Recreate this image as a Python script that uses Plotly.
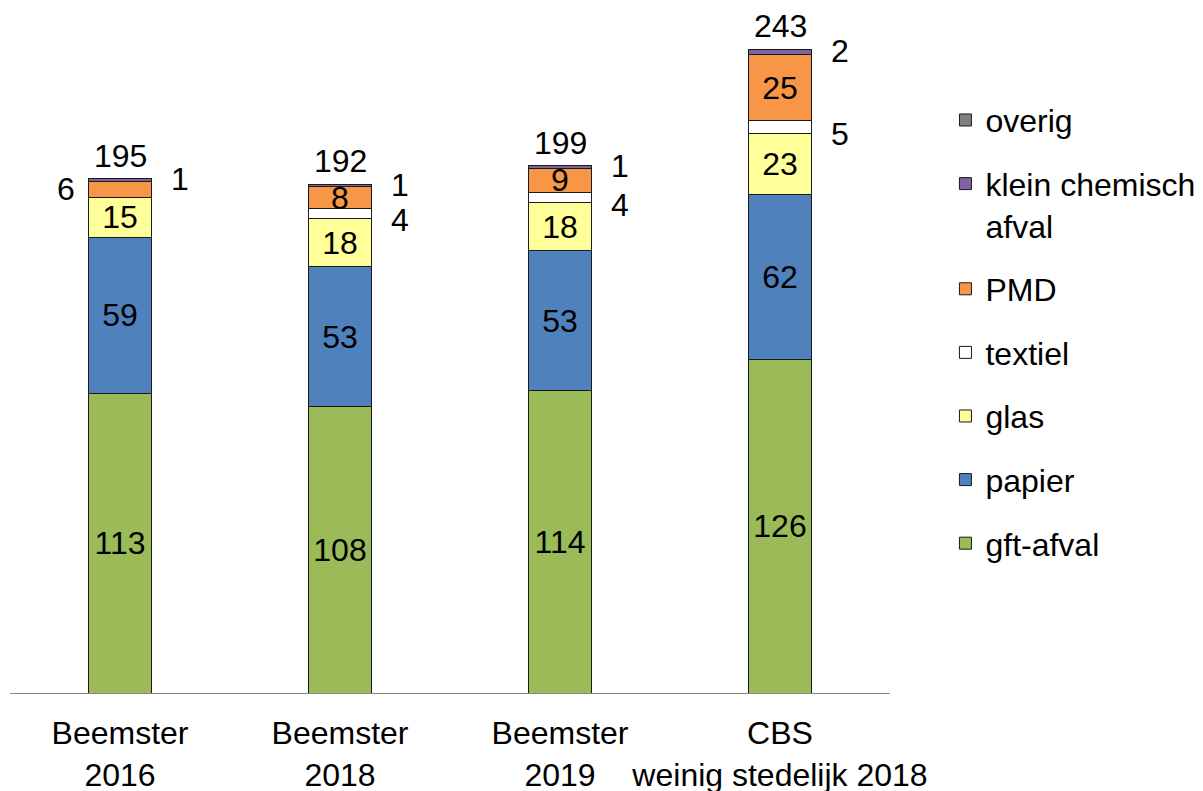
import plotly.graph_objects as go

categories = ["Beemster<br>2016", "Beemster<br>2018", "Beemster<br>2019", "CBS<br>weinig stedelijk 2018"]
series_names = ["gft-afval", "papier", "glas", "textiel", "PMD", "klein chemisch<br>afval", "overig"]
gft = [113, 108, 114, 126]
papier = [59, 53, 53, 62]
glas = [15, 18, 18, 23]
textiel = [0, 4, 4, 5]
pmd = [6, 8, 9, 25]
klein = [1, 1, 1, 2]
overig = [0, 0, 0, 0]
totals = [195, 192, 199, 243]

series_values = [gft, papier, glas, textiel, pmd, klein, overig]
colors = ["#9BBB59", "#4F81BD", "#FFFF99", "#FFFFFF", "#F79646", "#8064A2", "#808080"]

FONT = "Liberation Sans, Arial, sans-serif"
FS = 32
INSIDE_MIN = 8

fig = go.Figure()
n = len(series_names)
for idx, (name, vals, col) in enumerate(zip(series_names, series_values, colors)):
    txt = [str(v) if v >= INSIDE_MIN else "" for v in vals]
    fig.add_trace(go.Bar(
        x=categories, y=vals, name=name,
        marker=dict(color=col, line=dict(color="#1a1a1a", width=1)),
        text=txt, textposition="inside", insidetextanchor="middle",
        textangle=0, textfont=dict(family=FONT, size=FS, color="black"),
        hoverinfo="skip", legendgroup=name, legendrank=n - idx,
    ))

annotations = []
# small values outside the bars
for si, vals in enumerate(series_values):
    base = [sum(series_values[k][i] for k in range(si)) for i in range(len(categories))]
    for i, v in enumerate(vals):
        if 0 < v < INSIDE_MIN:
            left = (si == 4 and i == 0)
            if si == 5:
                ys = 1
            elif si == 3:
                ys = -7
            else:
                ys = 1
            annotations.append(dict(
                x=categories[i], y=base[i] + v / 2, text=str(v), showarrow=False,
                xshift=-54 if left else 60, yshift=ys,
                font=dict(family=FONT, size=FS, color="black"),
            ))
# totals
for i, t in enumerate(totals):
    annotations.append(dict(
        x=categories[i], y=sum(s[i] for s in series_values), text=str(t), showarrow=False,
        yanchor="bottom", yshift=3, font=dict(family=FONT, size=FS, color="black"),
    ))

fig.update_layout(
    width=1203, height=791,
    barmode="stack", bargap=0.718,
    plot_bgcolor="white", paper_bgcolor="white",
    margin=dict(l=2, r=321, t=12, b=106),
    font=dict(family=FONT, size=FS, color="black"),
    showlegend=True,
    legend=dict(
        traceorder="grouped", x=1.063, xanchor="left", y=0.892, yanchor="top",
        font=dict(family=FONT, size=FS, color="black"),
        tracegroupgap=19, valign="top", itemwidth=30,
        bgcolor="rgba(0,0,0,0)",
    ),
    uniformtext=dict(minsize=FS, mode="show"),
    annotations=annotations,
)
fig.update_xaxes(showline=True, linecolor="#868686", linewidth=1, ticks="",
                 ticklabelstandoff=12,
                 tickfont=dict(family=FONT, size=FS, color="black"), showgrid=False)
fig.update_yaxes(range=[0, 254], visible=False, showgrid=False, zeroline=False)

fig.write_html("out.html")
